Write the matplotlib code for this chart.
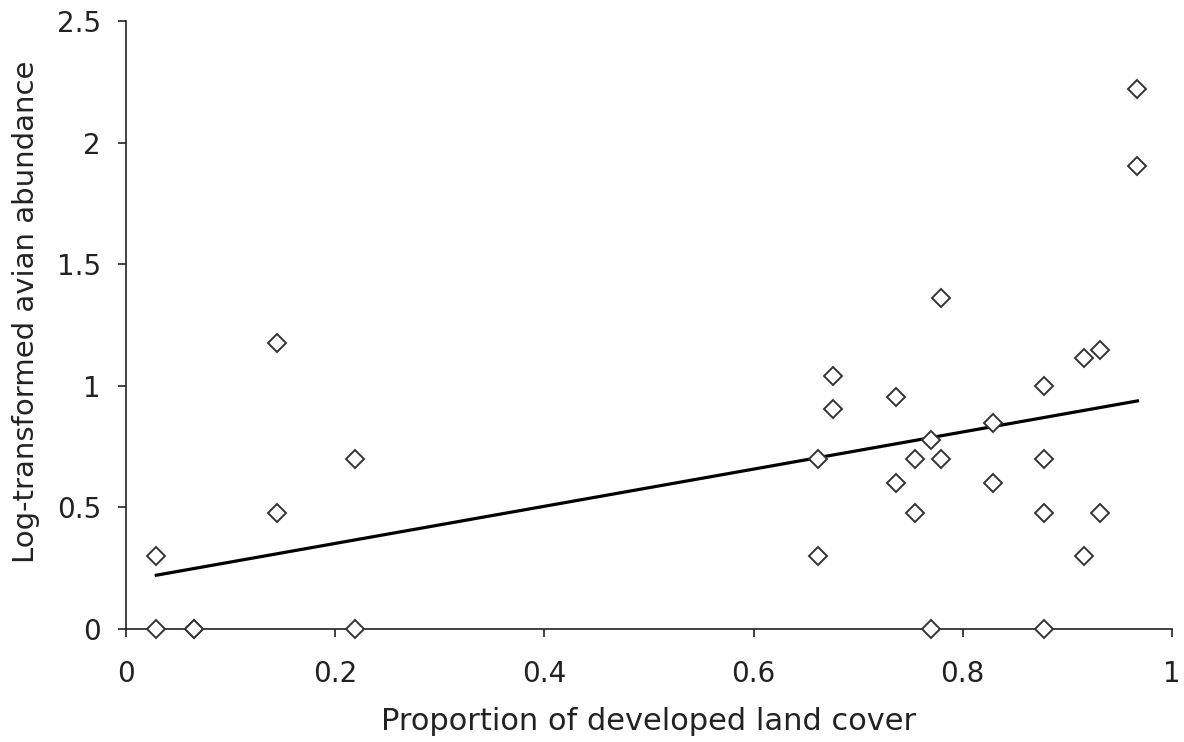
import matplotlib.pyplot as plt
import numpy as np

# proportion of developed land cover vs log-transformed abundance
developed = [0.029, 0.029, 0.065, 0.065, 0.144, 0.144, 0.219, 0.219,
             0.662, 0.662, 0.676, 0.676, 0.736, 0.736, 0.754, 0.754,
             0.770, 0.770, 0.779, 0.779, 0.829, 0.829,
             0.878, 0.878, 0.878, 0.878, 0.916, 0.916, 0.931, 0.931,
             0.967, 0.967]
abundance = [0.301, 0.0, 0.0, 0.0, 1.176, 0.477, 0.699, 0.0,
             0.699, 0.301, 1.041, 0.903, 0.954, 0.602, 0.699, 0.477,
             0.778, 0.0, 1.362, 0.699, 0.845, 0.602,
             1.0, 0.699, 0.477, 0.0, 1.114, 0.301, 1.146, 0.477,
             2.220, 1.903]

# trend line
trend_slope = 0.764
trend_intercept = 0.199

xticks = [0, 0.2, 0.4, 0.6, 0.8, 1]
xtick_labels = ['0', '0.2', '0.4', '0.6', '0.8', '1']
yticks = [0, 0.5, 1, 1.5, 2, 2.5]
ytick_labels = ['0', '0.5', '1', '1.5', '2', '2.5']

plt.rcParams['font.family'] = ['DejaVu Sans']
txt = '#222222'

fig = plt.figure(figsize=(11.84, 7.42), dpi=100)
ax = fig.add_axes([0.1064, 0.1523, 0.8834, 0.8194])

ax.plot(developed, abundance, 'D', ms=9, mfc='white', mec='#333333',
        mew=1.4, linestyle='none', zorder=3, clip_on=False)

xl = np.array([min(developed), max(developed)])
ax.plot(xl, trend_intercept + trend_slope * xl, color='black', lw=2.3, zorder=2)

ax.set_xlim(0, 1)
ax.set_ylim(0, 2.5)
ax.set_xticks(xticks)
ax.set_xticklabels(xtick_labels)
ax.set_yticks(yticks)
ax.set_yticklabels(ytick_labels)
ax.tick_params(direction='out', length=6, width=1.2, labelsize=20, colors=txt)
ax.tick_params(axis='x', pad=16)
ax.tick_params(axis='y', pad=12)

for s in ['top', 'right']:
    ax.spines[s].set_visible(False)
for s in ['left', 'bottom']:
    ax.spines[s].set_linewidth(1.2)
    ax.spines[s].set_color(txt)

ax.set_xlabel('Proportion of developed land cover', fontsize=22, color=txt, va='center')
ax.xaxis.set_label_coords(0.5477, 1 - 721 / 742, transform=fig.transFigure)
ax.set_ylabel('Log-transformed avian abundance', fontsize=21, color=txt, va='center')
ax.yaxis.set_label_coords(26 / 1184, 1 - 312 / 742, transform=fig.transFigure)

fig.savefig('out.png', dpi=100)
